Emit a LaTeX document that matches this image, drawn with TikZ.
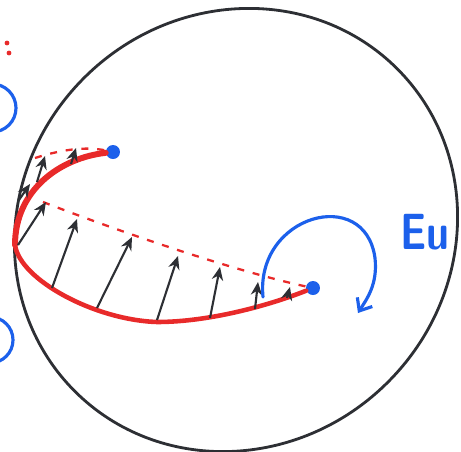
\documentclass[tikz,border=0pt]{standalone}
\usepackage{tikz}
\usetikzlibrary{arrows.meta,positioning,calc}
\definecolor{penred}{RGB}{232,42,42}
\definecolor{penblue}{RGB}{28,96,235}
\definecolor{penblack}{RGB}{45,47,52}

\begin{document}
\begin{tikzpicture}[
  x=0.02cm, y=-0.02cm,
  ball/.style={penblack, line width=1.6pt},
  section/.style={penred, line width=2.6pt, line cap=round},
  envelope/.style={penred, line width=1.3pt, dash pattern=on 4pt off 5pt},
  vec/.style={-{Stealth[length=7.5pt,width=6.5pt]}, penblack, line width=1.2pt},
  pt/.style={circle, fill=penblue, inner sep=0pt, minimum size=0.28cm},
  turn/.style={penblue, line width=1.8pt, line cap=round, -{Straight Barb[length=6pt,width=10pt]}},
  lbl/.style={penblue, font=\sffamily\bfseries\fontsize{29}{29}\selectfont, inner sep=0pt}
]
\useasboundingbox (0,0) rectangle (461,451);
\clip (0,0) rectangle (461,451);

\draw[ball, rotate around={45:(236,230)}] (236,230) ellipse [x radius=228, y radius=215];

\draw[penblue, line width=1.8pt] (-8,108) circle [radius=24];
\draw[penblue, line width=1.8pt] (-10,340) circle [radius=23];
\fill[penred] (7,43) circle [radius=2.4];
\fill[penred] (9,53) circle [radius=2.4];

\node[pt] (p) at (113,152) {};
\node[pt] (q) at (313,288) {};

\draw[envelope] (35,158) .. controls (60,150) and (85,146) .. (p);
\draw[envelope] (43,202) .. controls (110,228) and (230,270) .. (q);

\draw[section] (p) .. controls (60,158) and (15,190) .. (15,245)
  .. controls (20,280) and (95,320) .. (157,322)
  .. controls (210,322) and (270,305) .. (q);
\draw[section, line width=3.4pt] (p) .. controls (60,158) and (15,190) .. (15,245);

\draw[vec] (19,200) -- (30,184);
\draw[vec] (37,182) -- (45,156);
\draw[vec] (71,164) -- (76,148);

\draw[vec] (18,245) -- (46,202);
\draw[vec] (52,288) -- (77,219);
\draw[vec] (97,308) -- (132,237);
\draw[vec] (157,320) -- (178,256);
\draw[vec] (210,318) -- (220,267);
\draw[vec] (255,309) -- (258,282);
\draw[vec] (287,298) -- (290,287);

\draw[turn] (263,297) .. controls (255,215) and (365,185) .. (375,258)
  .. controls (378,285) and (366,300) .. (358,313);
\node[lbl] (eu) at (425,232) {\scalebox{0.8}[1]{Eu}};
\end{tikzpicture}
\end{document}
